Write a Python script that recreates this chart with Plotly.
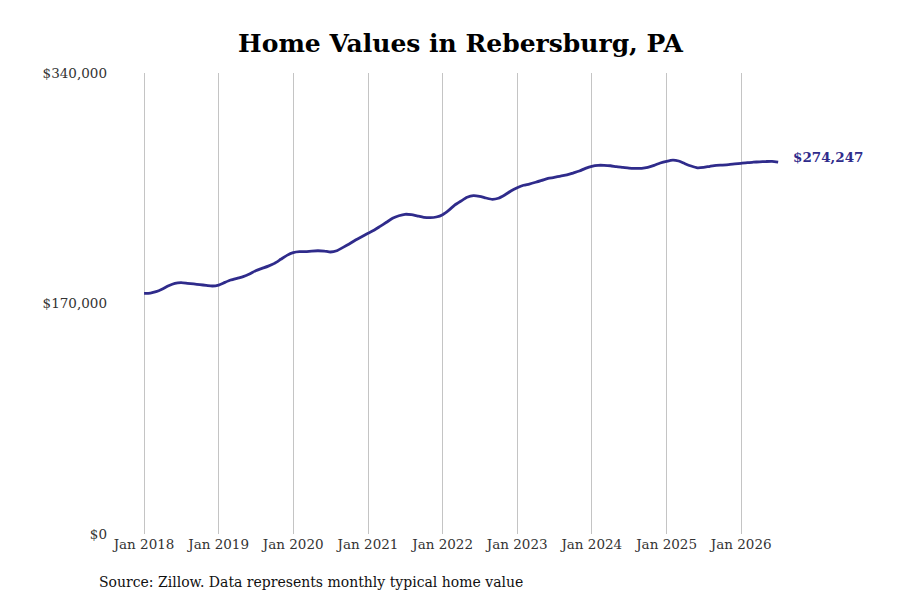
import pandas as pd
import plotly.graph_objects as go

start_month = "2018-01-01"
values = [
    177500, 177700, 178700, 180700, 183100, 184900, 185400, 184900, 184400, 183900, 183400, 182900,
    183600, 185600, 187300, 188600, 189800, 191750, 194200, 195900, 197600, 199600, 202600, 205500,
    207500, 208200, 208200, 208700, 208900, 208700, 208000, 208900, 211400, 213900, 216800, 219300,
    221800, 224200, 226900, 229900, 232800, 234700, 235800, 235500, 234500, 233600, 233300, 233800,
    235500, 238900, 242600, 245600, 248300, 249500, 249000, 247800, 246800, 247600, 250000, 253000,
    255400, 257200, 258100, 259400, 260800, 262300, 263000, 264000, 264800, 266200, 267700, 269700,
    271200, 271900, 271900, 271600, 270900, 270400, 269900, 269700, 269700, 270400, 271900, 273600,
    274900, 275800, 275100, 273100, 271400, 270100, 270400, 271200, 271900, 272100, 272400, 272900,
    273400, 273900, 274200, 274500, 274700, 274800, 274247,
]
dates = pd.date_range(start_month, periods=len(values), freq="MS")

y_ticks = [0, 170000, 340000]
y_tick_labels = ["$0", "$170,000", "$340,000"]
x_ticks = pd.date_range("2018-01-01", "2026-01-01", freq="YS")
x_tick_labels = [d.strftime("Jan %Y") for d in x_ticks]

line_color = "#2f2b8b"
font_family = "DejaVu Serif"

fig = go.Figure()
fig.add_trace(go.Scatter(
    x=dates, y=values, mode="lines",
    line=dict(color=line_color, width=2.8, shape="spline", smoothing=0.6),
    hoverinfo="skip", showlegend=False,
))

fig.add_annotation(
    x=dates[-1], y=values[-1], xref="x", yref="y",
    text="<b>${:,}</b>".format(values[-1]),
    showarrow=False, xanchor="left", yanchor="middle", xshift=13, yshift=5,
    font=dict(family=font_family, size=13.5, color=line_color),
)
fig.add_annotation(
    x=-0.023, y=-0.104, xref="paper", yref="paper",
    text="Source: Zillow. Data represents monthly typical home value",
    showarrow=False, xanchor="left", yanchor="middle",
    font=dict(family=font_family, size=14, color="#111111"),
)

fig.update_layout(
    width=900, height=600,
    paper_bgcolor="white", plot_bgcolor="white",
    margin=dict(l=105, r=100, t=65, b=74),
    title=dict(
        text="<b>Home Values in Rebersburg, PA</b>",
        x=0.5, xref="paper", xanchor="center",
        y=1 - 35 / 600, yref="container", yanchor="middle",
        font=dict(family=font_family, size=25, color="#000000"),
    ),
    font=dict(family=font_family, size=13.5, color="#333333"),
    xaxis=dict(
        range=["2017-08-02", "2026-11-24"],
        tickvals=x_ticks, ticktext=x_tick_labels,
        showgrid=True, gridcolor="#c4c4c4", gridwidth=1,
        zeroline=False, showline=False, ticks="",
        tickfont=dict(family=font_family, size=13.5, color="#333333"),
    ),
    yaxis=dict(
        range=[0, 340000],
        tickvals=y_ticks, ticktext=y_tick_labels,
        showgrid=False, zeroline=False, showline=False, ticks="",
        ticklabelstandoff=5,
        tickfont=dict(family=font_family, size=13.5, color="#333333"),
    ),
)

fig.write_html("out.html")
